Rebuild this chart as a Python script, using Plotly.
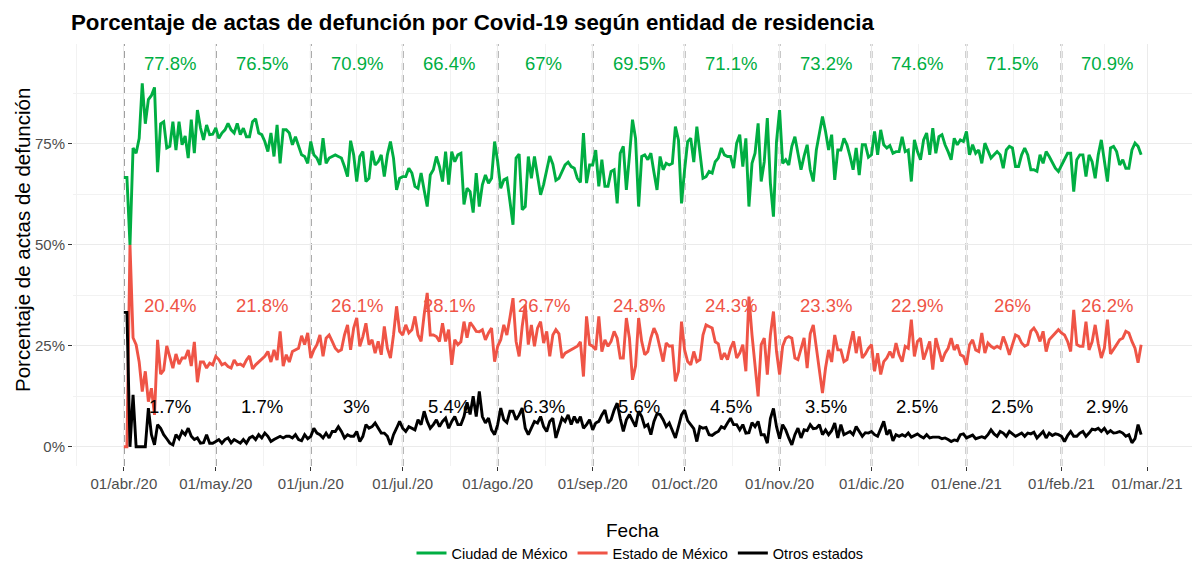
import pandas as pd
import plotly.graph_objects as go

# ---------------- data (daily shares, %) ----------------
dates = pd.date_range("2020-04-01", "2021-02-27", freq="D")

cdmx_apr = [66.7, 66.7, 50.0, 74.0, 72.7, 76.4, 90.0, 80.0, 86.0, 87.0, 89.0, 68.0, 80.0, 80.5, 74.0,
            74.4, 80.5, 73.5, 80.5, 74.8, 77.0, 71.5, 81.0, 72.7, 83.4, 79.0, 76.0, 79.7, 77.3, 77.4]
cdmx_may = [79.0, 76.4, 77.7, 78.5, 80.1, 78.5, 77.7, 80.1, 77.3, 78.9, 76.8, 76.8, 80.5, 81.2, 77.7, 77.3,
            75.6, 73.1, 77.7, 71.9, 79.7, 70.2, 78.5, 78.5, 77.7, 74.8, 76.8, 74.4, 72.3, 71.9, 70.2]
cdmx_jun = [75.6, 72.3, 71.5, 69.8, 76.4, 70.2, 71.5, 71.9, 72.3, 71.9, 71.5, 69.4, 66.9, 75.8, 72.3,
            65.7, 71.9, 73.1, 65.7, 66.5, 73.3, 69.8, 70.6, 72.3, 66.9, 72.3, 75.6, 71.5, 63.6, 66.5]
cdmx_jul = [66.9, 66.9, 69.0, 67.8, 64.5, 64.0, 67.8, 63.6, 59.5, 67.3, 68.6, 71.9, 69.4, 65.7, 73.1, 64.9,
            73.1, 70.6, 72.3, 72.7, 60.0, 64.0, 63.2, 58.0, 67.8, 59.5, 64.9, 67.3, 65.3, 66.5, 75.6]
cdmx_ago = [70.6, 64.0, 66.1, 66.5, 60.8, 55.0, 71.5, 72.5, 58.7, 59.5, 71.9, 66.5, 71.9, 66.5, 62.4, 65.0,
            69.0, 72.0, 70.0, 66.0, 66.5, 68.2, 69.8, 70.5, 69.4, 69.0, 66.5, 65.5, 77.7, 65.3, 69.8]
cdmx_sep = [69.8, 73.5, 64.5, 71.1, 64.5, 64.5, 68.2, 68.6, 60.3, 72.7, 74.4, 63.6, 72.0, 81.0, 76.4,
            59.5, 71.9, 72.3, 71.1, 72.7, 68.0, 63.6, 71.9, 68.6, 70.2, 69.8, 70.2, 79.3, 76.0, 60.3]
cdmx_oct = [68.6, 75.6, 76.4, 70.5, 79.3, 73.5, 66.5, 66.9, 68.2, 67.8, 70.6, 71.5, 74.0, 72.3, 71.9, 71.9,
            69.0, 75.2, 77.3, 69.4, 76.4, 59.5, 70.2, 72.7, 80.1, 65.7, 70.6, 81.4, 65.3, 57.0, 75.6]
cdmx_nov = [83.4, 70.2, 71.1, 69.8, 74.4, 76.8, 72.7, 68.6, 72.0, 74.8, 68.6, 65.7, 73.5, 77.3, 81.8,
            78.1, 73.5, 77.3, 66.1, 73.5, 73.5, 76.4, 74.8, 71.9, 68.6, 74.0, 67.3, 74.8, 74.8, 71.7]
cdmx_dic = [72.3, 78.1, 72.3, 78.5, 74.8, 74.0, 74.6, 72.7, 73.1, 73.1, 76.8, 73.1, 73.5, 65.7, 76.0, 73.1,
            71.1, 76.0, 77.7, 72.3, 78.9, 72.7, 76.8, 77.3, 74.8, 73.1, 71.1, 76.4, 74.8, 76.0, 75.6]
cdmx_ene = [78.1, 72.3, 74.8, 72.7, 73.5, 70.2, 75.2, 73.5, 71.5, 72.3, 73.1, 72.3, 69.0, 73.5, 74.4, 74.0,
            69.4, 69.4, 72.3, 74.0, 72.3, 68.6, 68.6, 68.2, 72.3, 70.2, 73.1, 71.9, 70.6, 69.0, 68.2]
cdmx_feb = [69.8, 71.5, 72.7, 72.7, 63.2, 71.1, 72.3, 72.3, 66.9, 72.3, 70.6, 66.5, 72.3, 76.0,
            70.6, 65.7, 74.0, 74.4, 73.1, 69.8, 71.1, 69.0, 69.0, 73.5, 75.2, 74.4, 72.3]

edomex_apr = [0.0, 0.0, 50.0, 27.0, 25.3, 21.0, 13.7, 18.7, 11.2, 14.5, 7.9, 26.5, 18.0, 19.0, 25.0,
              22.0, 19.5, 23.0, 20.5, 22.0, 22.0, 24.0, 20.0, 26.0, 16.0, 21.0, 21.0, 19.5, 20.7, 20.3]
edomex_may = [22.4, 21.6, 20.3, 20.7, 19.9, 19.5, 21.5, 20.3, 20.5, 20.0, 21.5, 22.5, 19.3, 20.3, 21.0, 21.6,
              22.4, 23.6, 21.0, 24.0, 21.5, 28.6, 20.0, 22.8, 21.0, 23.6, 24.0, 24.4, 27.5, 25.3, 28.2]
edomex_jun = [22.0, 24.0, 25.3, 27.7, 22.4, 26.9, 27.7, 26.1, 24.4, 23.6, 24.0, 27.7, 30.2, 24.0, 29.4,
              31.9, 24.9, 27.3, 30.6, 25.3, 26.5, 23.2, 26.1, 22.8, 29.8, 24.4, 22.0, 27.7, 34.8, 28.6]
edomex_jul = [27.7, 30.2, 28.2, 29.0, 32.3, 27.7, 26.1, 32.7, 38.1, 27.7, 27.7, 27.3, 26.1, 30.6, 26.1, 29.0,
              20.3, 26.5, 25.3, 26.0, 31.0, 27.0, 30.8, 29.8, 28.6, 28.5, 29.0, 26.5, 28.2, 29.4, 21.1]
edomex_ago = [24.9, 26.5, 30.2, 27.7, 32.0, 36.8, 26.1, 22.4, 29.8, 35.2, 25.3, 30.2, 24.9, 29.4, 31.0, 25.7,
              28.6, 22.4, 27.7, 29.0, 28.0, 22.0, 23.2, 23.6, 24.0, 24.4, 24.9, 26.0, 17.4, 32.3, 25.3]
edomex_sep = [24.9, 24.0, 32.3, 23.6, 26.5, 24.9, 26.1, 28.6, 26.9, 22.0, 22.0, 31.9, 26.9, 16.6, 20.0,
              31.9, 26.1, 22.8, 23.6, 27.0, 29.4, 27.7, 24.4, 21.1, 25.7, 24.9, 25.0, 16.2, 18.7, 31.0]
edomex_oct = [24.0, 21.1, 20.3, 23.6, 21.1, 21.6, 27.7, 30.2, 29.8, 29.4, 26.0, 25.5, 21.6, 23.2, 21.6, 24.4,
              26.1, 22.0, 23.2, 25.3, 18.7, 37.2, 27.7, 20.0, 12.5, 25.3, 26.9, 17.9, 27.7, 33.5, 23.6]
edomex_nov = [17.9, 24.9, 26.9, 27.3, 26.9, 22.0, 21.6, 24.5, 27.0, 19.5, 28.0, 30.2, 24.4, 19.5, 13.3,
              19.5, 24.0, 21.0, 27.7, 24.0, 24.0, 21.1, 21.6, 25.3, 28.6, 23.2, 27.3, 22.0, 23.0, 24.4]
edomex_dic = [25.3, 18.7, 23.2, 17.9, 21.1, 22.0, 23.6, 22.0, 25.7, 22.8, 21.1, 24.9, 24.4, 31.5, 22.4, 26.1,
              26.9, 21.6, 24.0, 26.1, 19.1, 26.9, 24.0, 21.1, 23.2, 24.4, 26.9, 24.0, 25.3, 22.8, 22.4]
edomex_ene = [20.3, 25.3, 26.5, 24.0, 23.6, 28.2, 23.2, 25.7, 24.9, 24.4, 24.9, 24.4, 27.3, 25.3, 22.8, 25.3,
              27.7, 27.3, 25.7, 24.9, 25.3, 28.6, 29.4, 28.2, 26.1, 28.6, 23.6, 26.5, 27.3, 28.2, 29.0]
edomex_feb = [28.2, 27.7, 26.1, 23.6, 33.9, 25.3, 24.9, 24.9, 31.0, 24.0, 26.0, 30.2, 25.5, 22.0,
              24.4, 31.5, 23.0, 24.0, 25.3, 26.5, 26.9, 28.6, 28.2, 26.1, 24.4, 20.8, 25.3]

otros_apr = [33.3, 33.3, 0.0, 12.9, 0.0, 0.0, 0.0, 0.0, 9.6, 3.0, 0.5, 5.5, 4.6, 3.0, 2.0,
             0.9, 0.5, 3.0, 2.0, 3.8, 3.0, 4.6, 2.6, 1.8, 2.2, 0.9, 1.0, 3.0, 0.9, 0.9]
otros_may = [1.3, 1.8, 0.9, 1.8, 2.2, 1.0, 1.8, 1.3, 0.9, 1.8, 0.9, 2.2, 2.6, 1.8, 3.0, 2.2,
             3.4, 2.6, 1.3, 1.8, 2.2, 2.6, 2.2, 2.6, 2.6, 2.2, 3.0, 1.8, 1.5, 3.0, 2.0]
otros_jun = [2.6, 4.6, 3.4, 3.0, 2.2, 3.4, 2.2, 3.8, 3.8, 5.0, 3.8, 2.2, 3.0, 2.6, 2.6,
             3.8, 1.3, 2.6, 5.5, 4.6, 5.0, 5.9, 4.6, 3.4, 3.4, 2.6, 0.5, 3.0, 4.6, 6.3]
otros_jul = [4.6, 3.8, 5.0, 4.6, 4.2, 6.7, 5.5, 8.8, 6.3, 4.6, 5.5, 6.7, 5.0, 6.3, 7.1, 4.6,
             6.3, 7.5, 5.5, 5.5, 7.5, 11.0, 8.0, 12.5, 7.5, 13.7, 7.5, 5.9, 7.1, 4.2, 3.0]
otros_ago = [5.5, 9.6, 6.7, 6.0, 8.8, 8.8, 6.7, 7.9, 9.6, 4.6, 3.0, 4.6, 6.3, 5.9, 7.5, 5.0,
             3.8, 6.3, 7.1, 2.2, 5.0, 7.1, 6.3, 7.9, 5.5, 7.5, 5.9, 7.5, 4.6, 5.5, 6.7]
otros_sep = [4.2, 5.9, 6.3, 7.9, 9.1, 5.9, 6.7, 9.1, 10.8, 7.0, 3.8, 6.7, 8.0, 6.5, 5.0,
             8.8, 7.5, 5.0, 5.5, 3.0, 6.3, 8.2, 8.0, 6.7, 5.0, 5.9, 3.8, 2.2, 5.0, 7.9]
otros_oct = [9.1, 6.5, 5.5, 4.5, 1.3, 5.0, 4.6, 4.8, 3.0, 2.8, 3.4, 3.8, 5.0, 4.6, 5.9, 7.1,
             5.5, 5.5, 4.2, 5.5, 3.4, 3.5, 6.0, 5.0, 6.3, 3.0, 3.0, 0.9, 7.0, 9.5, 5.0]
otros_nov = [2.0, 5.5, 4.2, 2.2, 0.5, 3.0, 4.6, 2.2, 4.2, 4.0, 5.5, 4.5, 4.6, 5.5, 3.0,
             4.2, 3.0, 4.0, 5.9, 2.2, 5.5, 3.0, 3.5, 3.8, 3.0, 5.0, 3.8, 2.6, 3.5, 3.4]
otros_dic = [3.8, 3.0, 2.6, 4.5, 6.3, 3.0, 4.2, 1.5, 3.0, 2.6, 3.0, 2.6, 3.4, 2.4, 2.8, 3.2,
             2.6, 2.2, 3.0, 2.2, 2.4, 2.4, 2.4, 2.0, 2.2, 1.8, 1.3, 1.7, 1.5, 3.0, 3.2]
otros_ene = [2.2, 2.6, 2.9, 2.0, 2.2, 2.5, 2.2, 3.0, 4.2, 3.2, 2.6, 3.8, 3.4, 2.6, 3.8, 3.2,
             2.6, 3.0, 3.4, 2.6, 3.4, 3.2, 3.6, 2.2, 3.0, 3.8, 2.2, 3.4, 2.8, 3.2, 3.0]
otros_feb = [2.6, 1.3, 2.8, 3.8, 2.6, 2.6, 3.4, 3.8, 2.6, 3.4, 4.4, 4.2, 4.6, 3.8,
             4.6, 3.4, 4.0, 3.4, 3.5, 3.8, 3.4, 2.6, 3.0, 1.0, 2.0, 5.5, 3.0]

cdmx = (cdmx_apr + cdmx_may + cdmx_jun + cdmx_jul + cdmx_ago + cdmx_sep + cdmx_oct + cdmx_nov
        + cdmx_dic + cdmx_ene + cdmx_feb)
edomex = (edomex_apr + edomex_may + edomex_jun + edomex_jul + edomex_ago + edomex_sep + edomex_oct
          + edomex_nov + edomex_dic + edomex_ene + edomex_feb)
otros = (otros_apr + otros_may + otros_jun + otros_jul + otros_ago + otros_sep + otros_oct + otros_nov
         + otros_dic + otros_ene + otros_feb)

# monthly shares (labels)
month_starts = ["2020-04-01", "2020-05-01", "2020-06-01", "2020-07-01", "2020-08-01", "2020-09-01",
                "2020-10-01", "2020-11-01", "2020-12-01", "2021-01-01", "2021-02-01"]
label_dates = ["2020-04-16", "2020-05-16", "2020-06-16", "2020-07-16", "2020-08-16", "2020-09-16",
               "2020-10-16", "2020-11-16", "2020-12-16", "2021-01-16", "2021-02-16"]
lab_cdmx = ["77.8%", "76.5%", "70.9%", "66.4%", "67%", "69.5%", "71.1%", "73.2%", "74.6%", "71.5%", "70.9%"]
lab_edomex = ["20.4%", "21.8%", "26.1%", "28.1%", "26.7%", "24.8%", "24.3%", "23.3%", "22.9%", "26%", "26.2%"]
lab_otros = ["1.7%", "1.7%", "3%", "5.4%", "6.3%", "5.6%", "4.5%", "3.5%", "2.5%", "2.5%", "2.9%"]
lab_y = {"cdmx": 95, "edomex": 35, "otros": 10}

tick_vals = month_starts + ["2021-03-01"]
tick_text = ["01/abr./20", "01/may./20", "01/jun./20", "01/jul./20", "01/ago./20", "01/sep./20",
             "01/oct./20", "01/nov./20", "01/dic./20", "01/ene./21", "01/feb./21", "01/mar./21"]
y_ticks = [0, 25, 50, 75]
y_text = ["0%", "25%", "50%", "75%"]

# ---------------- style ----------------
FONT = "Liberation Sans, Arial, sans-serif"
GREEN = "#00AE42"
RED = "#EF5446"
BLACK = "#000000"
GRID = "#EBEBEB"

fig = go.Figure()
for name, vals, col in [("Ciudad de México", cdmx, GREEN),
                        ("Estado de México", edomex, RED),
                        ("Otros estados", otros, BLACK)]:
    fig.add_trace(go.Scatter(x=dates, y=vals, mode="lines", name=name,
                             line=dict(color=col, width=2.9), hoverinfo="x+y"))

# dashed month separators
for d in month_starts:
    fig.add_shape(type="line", xref="x", yref="paper", x0=d, x1=d, y0=0, y1=1,
                  line=dict(color="#6E6E6E", width=1.6, dash="7px,5px"), layer="between")

for labels, key, col in [(lab_cdmx, "cdmx", GREEN), (lab_edomex, "edomex", RED), (lab_otros, "otros", BLACK)]:
    for d, t in zip(label_dates, labels):
        fig.add_annotation(x=d, y=lab_y[key], text=t, showarrow=False,
                           font=dict(family=FONT, size=18.5, color=col), xanchor="center", yanchor="middle")

# minor x grid at midpoints between month breaks
all_breaks = pd.to_datetime(["2020-03-01"] + tick_vals + ["2021-04-01"])
minor_x = [all_breaks[i] + (all_breaks[i + 1] - all_breaks[i]) / 2 for i in range(len(all_breaks) - 1)]

x0 = pd.Timestamp("2020-04-01") - pd.Timedelta(days=16.6)
x1 = pd.Timestamp("2020-04-01") + pd.Timedelta(days=348.6)

fig.update_layout(
    width=1198, height=563,
    margin=dict(l=73, r=6, t=44, b=97, autoexpand=False),
    paper_bgcolor="white", plot_bgcolor="white",
    font=dict(family=FONT, color="#000000"),
    title=dict(text="<b>Porcentaje de actas de defunción por Covid-19 según entidad de residencia</b>",
               x=71 / 1198, xref="container", xanchor="left", y=1 - 22 / 563, yref="container",
               yanchor="middle", font=dict(family=FONT, size=22.3, color="#000000")),
    showlegend=True,
    legend=dict(orientation="h", x=640 / 1198, xanchor="center", xref="container",
                y=1 - 553 / 563, yanchor="middle", yref="container",
                font=dict(family=FONT, size=14.5, color="#000000"), itemwidth=30,
                tracegroupgap=0),
    xaxis=dict(range=[x0, x1], tickmode="array", tickvals=tick_vals, ticktext=tick_text,
               automargin=False,
               showgrid=True, gridcolor=GRID, gridwidth=1.1, zeroline=False,
               ticks="outside", ticklen=4, tickcolor="#333333", tickwidth=1,
               tickfont=dict(family=FONT, size=15, color="#4D4D4D"),
               minor=dict(tickmode="array", tickvals=minor_x, showgrid=True, gridcolor="#F2F2F2",
                          gridwidth=0.6, ticks=""),
               showline=False),
    yaxis=dict(range=[-4.75, 99.75], tickmode="array", tickvals=y_ticks, ticktext=y_text,
               automargin=False,
               showgrid=True, gridcolor=GRID, gridwidth=1.1, zeroline=False,
               ticks="outside", ticklen=4, tickcolor="#333333", tickwidth=1,
               tickfont=dict(family=FONT, size=15, color="#4D4D4D"),
               minor=dict(tickmode="array", tickvals=[12.5, 37.5, 62.5, 87.5], showgrid=True,
                          gridcolor="#F2F2F2", gridwidth=0.6, ticks=""),
               showline=False),
)

fig.add_annotation(text="Fecha", xref="paper", yref="paper", x=0.5, y=-0.152, showarrow=False,
                   xanchor="center", yanchor="middle", font=dict(family=FONT, size=19, color="#000000"))
fig.add_annotation(text="Porcentaje de actas de defunción", xref="paper", yref="paper",
                   x=-0.0456, y=(466 - 240) / 422, textangle=-90, showarrow=False,
                   xanchor="center", yanchor="middle",
                   font=dict(family=FONT, size=20.5, color="#000000"))

fig.write_html("out.html", config={"displayModeBar": False},
               post_script="document.body.style.margin='0px';document.body.style.overflow='hidden';")
